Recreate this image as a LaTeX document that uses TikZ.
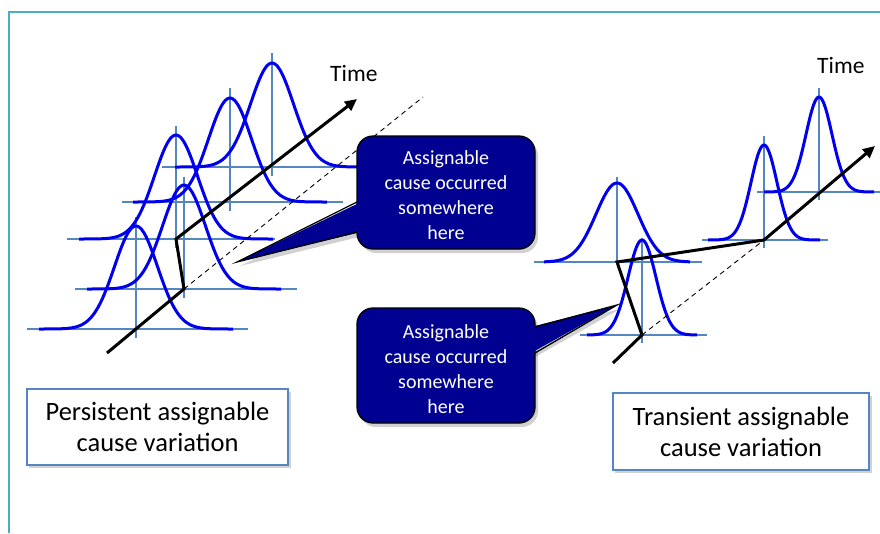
\documentclass[tikz,border=0pt]{standalone}
\usepackage{fontspec}
\setmainfont{Carlito}
\usetikzlibrary{arrows.meta}
\definecolor{frameblue}{RGB}{75,172,198}
\definecolor{axisblue}{RGB}{84,134,192}
\definecolor{curveblue}{RGB}{0,0,238}
\definecolor{navy}{RGB}{0,0,145}
\definecolor{tboxline}{RGB}{84,134,192}
\tikzset{
 frameline/.style={draw=frameblue, line width=2pt},
 axisline/.style={draw=axisblue, line width=2pt},
 bellcurve/.style={draw=curveblue, line width=3pt},
 timepath/.style={draw=black, line width=3pt, line join=miter},
 guide/.style={draw=black, line width=0.9pt, dash pattern=on 5pt off 4pt},
 callbox/.style={fill=navy, draw=black, line width=1.3pt, rounded corners=16pt},
 calledge/.style={draw=black, line width=1.3pt, line join=miter},
 calltext/.style={text=white, font=\fontsize{20}{25}\selectfont, align=center, inner sep=0pt},
 labelbox/.style={draw=tboxline, line width=1.3pt, fill=white, align=center, font=\fontsize{26.5}{31}\selectfont, inner sep=0pt},
 timelabel/.style={font=\fontsize{23.5}{28}\selectfont, anchor=base west, inner sep=0pt},
 softshadow/.style={fill=black, opacity=0.18},
}
% axes of one bell: centre x, base y, vertical top, vertical bottom, horizontal left, horizontal right
\newcommand{\gaxes}[6]{%
  \draw[axisline] (#5,#2) -- (#6,#2);
  \draw[axisline] (#1,#3) -- (#1,#4);
}
% bell curve: centre x, base y, height, sigma, half width
\newcommand{\gbell}[5]{%
  \draw[bellcurve] plot[domain=-#5:#5, samples=90, smooth] ({#1+\x},{#2-#3*exp(-(\x*\x)/(2*#4*#4))});
}
\begin{document}
\begin{tikzpicture}[x=1pt,y=-1pt]
\useasboundingbox (0,0) rectangle (880,533);
\fill[white] (0,0) rectangle (880,533);
% frame
\draw[frameline] (8.5,533) -- (8.5,11.5) -- (880,11.5);

% ---------- left panel ----------
\gaxes{272}{167}{53}{176}{162}{385}
\gaxes{230}{202}{88}{211}{122}{343}
\gaxes{176}{239}{126}{248}{67}{275}
\gaxes{184}{289}{177}{298}{75}{297}
\gaxes{136}{329}{217}{338}{27}{248}
\gbell{272}{167}{104}{21.5}{97}
\gbell{230}{202}{104}{21.5}{97}
\gbell{176}{239}{104}{21.5}{97}
\gbell{184}{289}{104}{21.5}{97}
\gbell{136}{329}{103}{21.5}{97}

\coordinate (Lstart) at (107,353);
\coordinate (Lo2) at (184,289);
\coordinate (Lo3) at (176,239);
\coordinate (Lend) at (357,99);
\coordinate (Ldash) at (423,97);
\draw[guide] (Lo2) -- (Ldash);
\draw[timepath, -{Triangle[length=12pt,width=11pt]}] (Lstart) -- (Lo2) -- (Lo3) -- (Lend);
\node[timelabel] (Ltime) at (330,81) {Time};

% ---------- right panel ----------
\gaxes{617}{262}{177}{263}{534}{702}
\gaxes{642}{335}{238}{343}{580}{707}
\gaxes{764}{240}{136}{248}{702}{828}
\gaxes{819}{192}{88}{200}{757}{880}
\gbell{617}{262}{79}{21}{73}
\gbell{642}{335}{95}{14}{55}
\gbell{764}{240}{95}{13}{56}
\gbell{819}{192}{95}{13}{55}

\coordinate (Rstart) at (613,363);
\coordinate (RoB) at (642,335);
\coordinate (RoA) at (617,262);
\coordinate (RoC) at (764,240);
\coordinate (Rend) at (875,146);
\draw[guide] (RoB) -- (RoC);
\draw[timepath, -{Triangle[length=12pt,width=11pt]}] (Rstart) -- (RoB) -- (RoA) -- (RoC) -- (Rend);
\node[timelabel] (Rtime) at (817,73) {Time};

% ---------- upper callout ----------
\coordinate (c1tip) at (237,262);
\begin{scope}[shift={(3,4)}]
  \fill[softshadow, rounded corners=16pt] (357,136) rectangle (535,249);
  \fill[softshadow] (360,202) -- (237,262) -- (360,232) -- cycle;
\end{scope}
\draw[callbox] (357,136) rectangle (535,249);
\fill[navy] (361,202) -- (c1tip) -- (361,232) -- cycle;
\draw[calledge] (357,202) -- (c1tip) -- (357,232);
\node[calltext] (c1text) at (446,195) {Assignable\\cause occurred\\somewhere\\here};

% ---------- lower callout ----------
\coordinate (c2tip) at (617,305);
\begin{scope}[shift={(3,4)}]
  \fill[softshadow, rounded corners=16pt] (357,308) rectangle (535,423);
  \fill[softshadow] (532,327) -- (617,305) -- (532,353) -- cycle;
\end{scope}
\draw[callbox] (357,308) rectangle (535,423);
\fill[navy] (531,327) -- (c2tip) -- (531,353) -- cycle;
\draw[calledge] (535,327) -- (c2tip) -- (535,353);
\node[calltext] (c2text) at (446,369) {Assignable\\cause occurred\\somewhere\\here};

% ---------- label boxes ----------
\fill[softshadow] (29,392) rectangle (291,468);
\node[labelbox, minimum width=261pt, minimum height=76pt] (Lbox) at (157.5,427) {Persistent assignable\\cause variation};
\fill[softshadow] (615,396) rectangle (872,473);
\node[labelbox, minimum width=256pt, minimum height=77pt] (Rbox) at (741,431.5) {Transient assignable\\cause variation};
\end{tikzpicture}
\end{document}
